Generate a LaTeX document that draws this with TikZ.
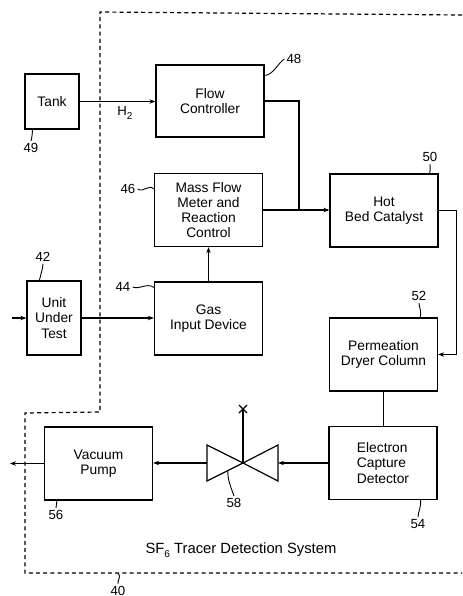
\documentclass[tikz,border=0pt]{standalone}
\usepackage{fontspec}
\setmainfont{Liberation Sans}
\usetikzlibrary{positioning,calc,arrows.meta}
\tikzset{
  blk/.style={draw, line width=0.6pt, minimum width=54pt, minimum height=36.5pt,
    align=center, inner sep=1pt, font=\fontsize{6.9}{7.6}\selectfont},
  tall/.style={blk, minimum width=27pt},
  refnum/.style={inner sep=1pt, font=\fontsize{6.6}{7}\selectfont},
  flow/.style={line width=0.6pt, -{Stealth[length=3pt,width=2.2pt]}},
  lead/.style={line width=0.45pt},
}
\newcommand{\lowsub}[1]{\raisebox{-0.45ex}{\fontsize{5}{5}\selectfont #1}}

\begin{document}
\begin{tikzpicture}[x=0.5pt,y=-0.5pt]
\useasboundingbox (0,0) rectangle (462,596);

% system boundary
\draw[line width=0.6pt, dash pattern=on 2pt off 1.6pt]
  (462,15)--(100,12)--(100,412)--(25,413)--(25,573)--(462,573);
\coordinate (b40) at (118,573);

% blocks
\node[tall, minimum height=27.5pt] (tank) at (52,101.5) {Tank};
\node[blk, minimum height=36pt] (flowc) at (210,101) {Flow\\Controller};
\node[blk] (meter) at (208.5,210) {Mass Flow\\Meter and\\Reaction\\Control};
\node[blk] (hot) at (384,210.5) {Hot\\Bed Catalyst};
\node[tall, minimum height=37pt] (uut) at (54,318) {Unit\\Under\\Test};
\node[blk] (gas) at (208.5,318.5) {Gas\\Input Device};
\node[blk] (dryer) at (383.5,354.5) {Permeation\\Dryer Column};
\node[blk, align=left] (ecd) at (383,463) {Electron\\Capture\\Detector};
\node[blk] (pump) at (98.5,463.5) {Vacuum\\Pump};

% valve
\coordinate (vc) at (243,463);
\coordinate (vl) at (207,463);
\coordinate (vr) at (278,463);
\draw[line width=0.6pt] (207,445)--(207,481)--(vc)--cycle (278,445)--(278,481)--(vc)--cycle;
\draw[line width=0.6pt] (vc) -- (243,409) coordinate (vtop);
\draw[line width=0.6pt] (vtop) ++(-4,-4) -- ++(8,8) ++(-8,0) -- ++(8,-8);
\coordinate (v58) at (228,470.5);

% flow lines
\coordinate (merge) at (299,210);
\coordinate (inlet) at (12,318);
\draw[flow] (tank.east) -- (flowc.west |- tank.east);
\node[refnum] (h2) at (125,113) {H\lowsub{2}};
\draw[line width=0.6pt] (flowc.east) -| (merge);
\draw[flow] (meter.east) -- (meter.east -| hot.west);
\draw[flow] (gas.north) -- (meter.south);
\draw[flow] (hot.east) -- ++(18,0) |- (dryer.east);
\draw[line width=0.6pt] (dryer.south) -- (dryer.south |- ecd.north);
\draw[flow] (ecd.west) -- (vr);
\draw[flow] (vl) -- (pump.east |- vl);
\draw[flow] (pump.west) -- ++(-34,0) coordinate (exhaust);
\draw[flow] (inlet) -- (uut.west);
\draw[flow] (uut.east) -- (gas.west |- uut.east);

% reference numerals
\node[refnum] (l49) at (31,148) {49};
\node[refnum] (l48) at (294,59) {48};
\node[refnum] (l46) at (128,189) {46};
\node[refnum] (l50) at (430,157) {50};
\node[refnum] (l42) at (43,257) {42};
\node[refnum] (l44) at (123,287) {44};
\node[refnum] (l52) at (419,296) {52};
\node[refnum] (l54) at (418,524) {54};
\node[refnum] (l56) at (56,515) {56};
\node[refnum] (l58) at (234,503) {58};
\node[refnum] (l40) at (118,591) {40};
\draw[lead] (tank.south west) ++(8,0) .. controls +(0,4) and +(1,-4) .. (l49.north);
\draw[lead] (flowc.north east) ++(0,11) .. controls +(8,0) and +(-6,4) .. (l48.west);
\draw[lead] (meter.north west) ++(0,16) .. controls +(-6,-5) and +(6,4) .. (l46.east);
\draw[lead] (hot.north east) ++(-9,0) .. controls +(1,-4) and +(0,3) .. (l50.south);
\draw[lead] (uut.north west) ++(13,0) .. controls +(1,-5) and +(0,4) .. (l42.south);
\draw[lead] (gas.north west) ++(0,6) .. controls +(-7,-5) and +(6,3) .. (l44.east);
\draw[lead] (dryer.north east) ++(-18,0) .. controls +(2,-5) and +(0,4) .. (l52.south);
\draw[lead] (ecd.south east) ++(-17,0) .. controls +(1,5) and +(0,-4) .. (l54.north);
\draw[lead] (pump.south west) ++(13,0) .. controls +(0,3) and +(0,-2) .. (l56.north);
\draw[lead] (v58) .. controls +(-1,9) and +(-2,-6) .. (l58.north);
\draw[lead] (b40) .. controls +(4,4) and +(-1,-4) .. (l40.north);

\node[font=\fontsize{7.4}{8}\selectfont] (title) at (241,550) {SF\lowsub{6} Tracer Detection System};
\end{tikzpicture}
\end{document}
